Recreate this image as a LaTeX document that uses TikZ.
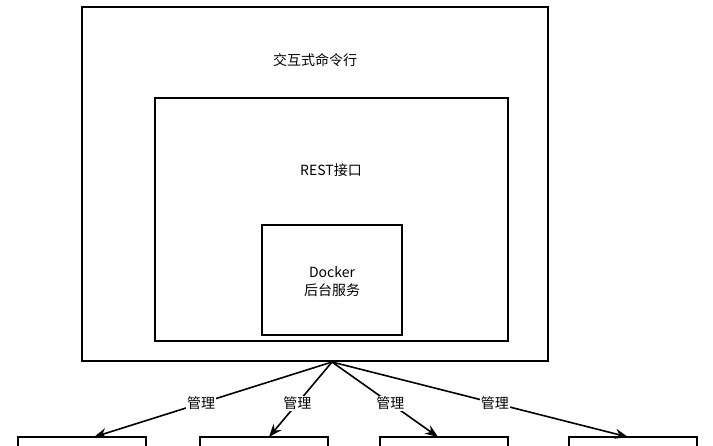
\documentclass[tikz,border=0pt]{standalone}
\usepackage{fontspec}
\setmainfont{Noto Sans CJK SC}
\usetikzlibrary{arrows.meta}
\begin{document}
\begin{tikzpicture}[x=1pt,y=-1pt, >={Stealth[length=13pt,width=10pt]},
	box/.style={draw, line width=1.5pt},
	lbl/.style={font=\fontsize{14}{18}\selectfont, fill=white, inner sep=1pt},
	link/.style={->, line width=1.6pt}]
\useasboundingbox (0,0) rectangle (713,445);
\clip (0,0) rectangle (713,445);
\draw[box] (82,7) rectangle (548,361);
\node[lbl] (cli) at (315,60) {交互式命令行};
\draw[box] (155,98) rectangle (508,341);
\node[lbl] (rest) at (331,170) {REST接口};
\draw[box] (262,225) rectangle (402,335);
\node[lbl, align=center] (daemon) at (332,281) {Docker\\后台服务};
\coordinate (src) at (332,362);
% bottom boxes
\foreach \n/\x in {a/18, b/200, c/380, d/569}
  \draw[box] (\x,437) rectangle ++(128,40);
\coordinate (ta) at (94,437);
\coordinate (tb) at (269,437);
\coordinate (tc) at (438,437);
\coordinate (td) at (628,437);
\foreach \t in {a, b, c, d}
  \draw[link] (src) -- node[lbl, pos=0.55] (m\t) {管理} (t\t);
\end{tikzpicture}
\end{document}
